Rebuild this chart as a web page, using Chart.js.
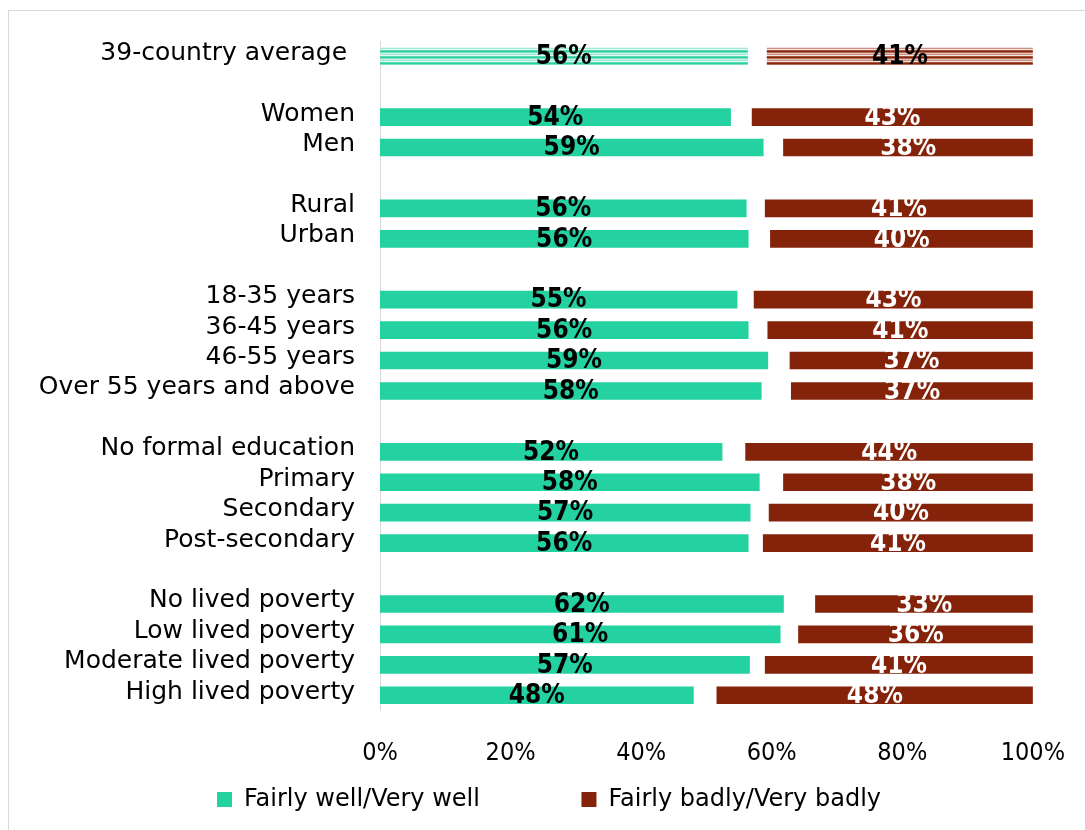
<!DOCTYPE html>
<html>
<head>
<meta charset="utf-8">
<script src="https://cdn.jsdelivr.net/npm/chart.js@4/dist/chart.umd.min.js"></script>
<style>
  body { margin: 0; background: #fff; }
  #wrap { position: relative; width: 1085px; height: 830px; overflow: hidden; }
  #frame { position: absolute; left: 8px; top: 10px; width: 1200px; height: 900px; border-left: 1px solid #d9d9d9; border-top: 1px solid #d9d9d9; }
  canvas { position: absolute; left: 0; top: 0; }
</style>
</head>
<body>
<div id="wrap">
  <div id="frame"></div>
  <canvas id="chart" width="1085" height="830"></canvas>
</div>
<script>
const categories = [
  '39-country average ', '',
  'Women', 'Men', '',
  'Rural', 'Urban', '',
  '18-35 years', '36-45 years', '46-55 years', 'Over 55 years and above', '',
  'No formal education', 'Primary', 'Secondary', 'Post-secondary', '',
  'No lived poverty', 'Low lived poverty', 'Moderate lived poverty', 'High lived poverty'
];
// % saying the government handles it fairly/very well
const well = [56.3, null, 53.7, 58.7, null, 56.1, 56.4, null, 54.7, 56.4, 59.4, 58.4, null, 52.4, 58.1, 56.7, 56.4, null, 61.8, 61.3, 56.6, 48.0];
// % fairly/very badly (drawn from the right end)
const badly = [40.7, null, 43.0, 38.2, null, 41.0, 40.2, null, 42.7, 40.6, 37.2, 37.0, null, 44.0, 38.2, 40.4, 41.3, null, 33.3, 35.9, 41.0, 48.4];
const xTicks = [0, 20, 40, 60, 80, 100];

const GREEN = '#23d1a1';
const RED = '#85230a';
const COND = '"DejaVu Sans Condensed", "DejaVu Sans", sans-serif';
const SANS = '"DejaVu Sans", sans-serif';

function stripes(rows) {
  const c = document.createElement('canvas');
  c.width = 4; c.height = rows.length;
  const g = c.getContext('2d');
  rows.forEach((col, i) => { g.fillStyle = col; g.fillRect(0, i, 4, 1); });
  return g.createPattern(c, 'repeat');
}
const ctx0 = document.getElementById('chart').getContext('2d');
const greenStripes = stripes(['#9fead3', '#e4f9f2', '#5ad9b2', '#2bd0a0', '#79e0c1', '#c8f3e5']);
const redStripes = stripes(['#c79283', '#f3e4df', '#a5503b', '#87250c', '#b36a57', '#e2c1b8']);

const barLabels = {
  id: 'barLabels',
  afterDatasetsDraw(chart) {
    const ctx = chart.ctx;
    ctx.save();
    ctx.font = 'bold 26px ' + COND;
    ctx.textAlign = 'center';
    ctx.textBaseline = 'middle';
    chart.data.datasets.forEach((ds, di) => {
      chart.getDatasetMeta(di).data.forEach((bar, i) => {
        const v = di === 0 ? well[i] : badly[i];
        if (v == null) return;
        const { x, base, y } = bar.getProps(['x', 'base', 'y'], true);
        ctx.fillStyle = (di === 0 || i === 0) ? '#000' : '#fff';
        ctx.fillText(Math.round(v) + '%', (x + base) / 2, y + 1);
      });
    });
    ctx.restore();
  }
};

new Chart(ctx0, {
  type: 'bar',
  data: {
    labels: categories,
    datasets: [
      {
        label: 'Fairly well/Very well',
        data: well,
        backgroundColor: c => c.dataIndex === 0 ? greenStripes : GREEN,
        barThickness: 17,
        grouped: false,
      },
      {
        label: 'Fairly badly/Very badly',
        data: badly.map(v => v == null ? null : [100 - v, 100]),
        backgroundColor: c => c.dataIndex === 0 ? redStripes : RED,
        barThickness: 17,
        grouped: false,
      }
    ]
  },
  options: {
    indexAxis: 'y',
    responsive: false,
    animation: false,
    layout: { padding: { top: 41, right: -13, bottom: 8.5, left: 0 } },
    plugins: {
      tooltip: { enabled: false },
      legend: {
        position: 'bottom',
        labels: {
          color: '#000',
          font: { family: SANS, size: 24 },
          boxWidth: 15, boxHeight: 15, padding: 10,
          generateLabels: chart => {
            const items = Chart.defaults.plugins.legend.labels.generateLabels(chart);
            items[0].text += '\u00a0'.repeat(12);
            items[0].fillStyle = GREEN;
            items[1].fillStyle = RED;
            return items;
          }
        }
      }
    },
    scales: {
      x: {
        min: 0, max: 100,
        afterFit: s => { s.height = 67; },
        afterBuildTicks: s => { s.ticks = xTicks.map(v => ({ value: v })); },
        ticks: { color: '#000', padding: 20, font: { family: COND, size: 25 }, callback: v => v + '%' },
        grid: { display: false },
        border: { display: false }
      },
      y: {
        afterFit: s => { s.width = 380; },
        ticks: { color: '#000', padding: 25, labelOffset: -3, autoSkip: false, font: { family: SANS, size: 25 } },
        grid: { display: false, tickLength: 0 },
        border: { color: '#d9d9d9', width: 1 }
      },
      // empty right-hand margin
      y2: {
        position: 'right',
        afterFit: s => { s.width = 64; },
        ticks: { display: false },
        grid: { display: false },
        border: { display: false }
      }
    }
  },
  plugins: [barLabels]
});
</script>
</body>
</html>
